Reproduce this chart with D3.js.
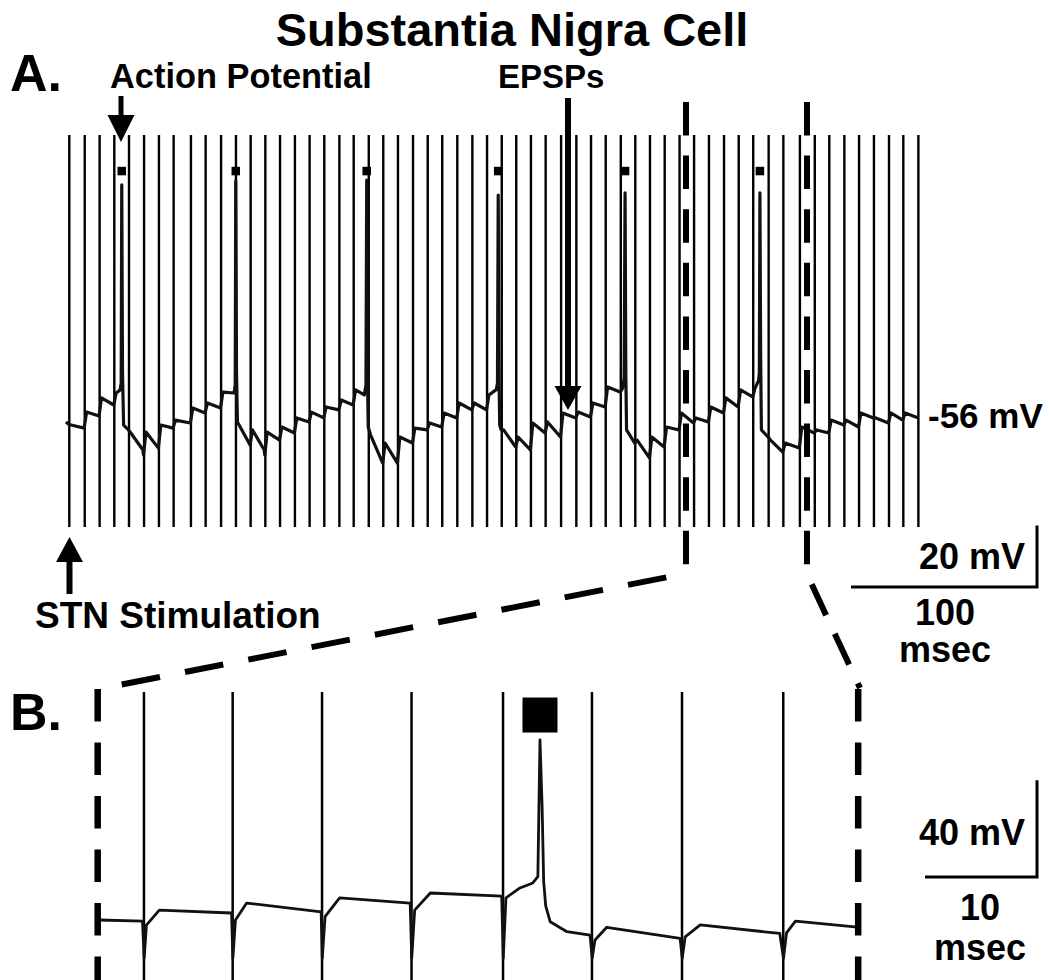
<!DOCTYPE html>
<html><head><meta charset="utf-8">
<script src="https://cdn.jsdelivr.net/npm/d3@7"></script>
<style>
body{margin:0;background:#fff}
svg{display:block}
text{font-family:"Liberation Sans",Arial,Helvetica,sans-serif;font-weight:bold;fill:#000}
</style>
</head><body>
<svg id="chart" width="1050" height="980"></svg>
<script>
// ---------------- DATA ----------------
// Panel A: STN stimulation times (ms)
const stimTimesA = [0, 8.3, 16.3, 24.2, 32.1, 40.2, 48.2, 56.1, 65.4, 73.3, 81.6, 89.6, 97.5, 105.4, 113.3,
  121.3, 129.2, 137.1, 145.2, 152.9, 161.0, 168.8, 176.7, 184.8, 192.7, 200.5, 208.6, 216.7, 224.6, 232.5,
  240.3, 248.2, 256.1, 264.4, 272.6, 280.5, 288.4, 296.5, 304.3, 312.2, 320.1, 328.1, 335.9, 343.9, 352.0,
  359.9, 367.7, 376.0, 383.9, 392.8, 400.8, 408.6, 416.7, 424.6, 432.6, 440.7, 448.4, 456.5];
// stimulus artifact extent (mV)
const stimArtifactA = [-92.4, 34.9];
// action potential times (ms), each marked with a square
const spikeTimesA = [28.2, 89.5, 159.9, 230.6, 298.8, 371.3];
const spikeMarkerLevelA = 23.2; // mV
// membrane potential trace [ms, mV]
const traceA = [
  [-1.8, -58.25], [-0.3, -59.0],
  [1.0, -59.25], [8.0, -60.25],
  [9.3, -55.05], [16.0, -56.35],
  [17.3, -50.45], [23.9, -52.75],
  [25.2, -48.85], [27.3, -47.85], [27.9, -45.6], [28.2, 18.7], [28.6, -42.15], [29.2, -59.25], [31.8, -60.85],
  [33.1, -61.85], [39.6, -67.35], [39.9, -69.0],
  [41.2, -61.55], [47.9, -66.75],
  [49.2, -59.25], [55.8, -60.25],
  [57.1, -57.65], [65.1, -58.6],
  [66.4, -53.75], [73.0, -55.35],
  [74.3, -52.1], [81.3, -53.75],
  [82.6, -48.55], [88.6, -48.85], [89.2, -46.25], [89.5, 20.0], [89.9, -42.15],
  [90.4, -58.25], [97.2, -65.75],
  [98.5, -60.85], [104.8, -67.35], [105.1, -69.0],
  [106.4, -61.55], [113.0, -64.15],
  [114.3, -59.9], [121.0, -61.85],
  [122.3, -56.95], [128.9, -58.25],
  [130.2, -55.05], [136.8, -56.95],
  [138.1, -53.4], [144.9, -54.35],
  [146.2, -51.15], [152.6, -52.75],
  [153.9, -47.85], [158.6, -49.5], [159.5, -46.25], [159.9, 20.3], [160.3, -42.15], [160.7, -59.9],
  [162.0, -62.5], [168.5, -71.6],
  [169.8, -65.1], [176.4, -71.6],
  [177.7, -63.15], [184.5, -65.1],
  [185.8, -60.25], [192.4, -60.85],
  [193.7, -58.6], [200.2, -59.9],
  [201.5, -55.35], [208.3, -56.95],
  [209.6, -52.1], [216.4, -54.35],
  [217.7, -52.1], [224.3, -54.35],
  [225.6, -49.5], [229.6, -47.75], [230.2, -45.6], [230.6, 15.4], [231.0, -42.15], [231.4, -59.25], [232.2, -60.85],
  [233.5, -60.85], [240.0, -66.4],
  [241.3, -63.15], [247.9, -67.35],
  [249.2, -58.6], [255.8, -61.85],
  [257.1, -58.25], [264.1, -63.15],
  [265.4, -55.35], [272.3, -56.95],
  [273.6, -55.05], [280.2, -56.65],
  [281.5, -52.1], [288.1, -53.4],
  [289.4, -46.9], [296.2, -48.55],
  [297.5, -47.25], [298.3, -43.95], [298.8, 16.1], [299.2, -42.15], [299.6, -60.85], [304.0, -65.1],
  [305.3, -64.15], [311.9, -69.95],
  [313.2, -63.15], [319.8, -66.4],
  [321.1, -59.9], [327.8, -60.85],
  [329.1, -55.35], [335.6, -58.6],
  [336.9, -56.95], [343.6, -58.25],
  [344.9, -53.4], [351.7, -55.35],
  [353.0, -50.45], [359.6, -53.4],
  [360.9, -47.85], [367.4, -50.15],
  [368.7, -47.25], [370.6, -44.75], [371.0, -42.4], [371.3, 16.1], [371.7, -37.8], [372.1, -60.85], [375.7, -63.15],
  [377.0, -64.15], [383.6, -68.05],
  [384.9, -65.1], [392.5, -66.75],
  [393.8, -59.9], [400.5, -61.85],
  [401.8, -60.85], [408.3, -61.85],
  [409.6, -57.65], [416.4, -59.25],
  [417.7, -57.65], [424.3, -59.9],
  [425.6, -55.35], [432.3, -56.95],
  [433.6, -56.95], [440.4, -58.6],
  [441.7, -55.35], [448.1, -57.65],
  [449.4, -55.35], [456.5, -56.95]
];
const restingLabelA = "-56 mV";
const restingLevelA = -56;

// Panel B: expanded view (ms from the left dashed border)
const stimTimesB = [4.13, 12.05, 20.03, 28.02, 36.19, 44.13, 52.17, 61.21];
const stimArtifactB = [-93, 36.2];
const spikeTimeB = 39.49;
const spikeMarkerLevelB = 26.7;
const traceB = [
  [0.2, -58], [4.0, -58.45], [4.15, -73.8], [4.35, -60.1], [5.5, -53.9], [11.95, -55.1],
  [12.07, -73.8], [12.3, -58], [13.3, -51.0], [19.95, -54.6],
  [20.05, -73.8], [20.3, -56.6], [21.6, -48.85], [27.9, -51.0],
  [28.04, -73.8], [28.3, -53.9], [29.7, -46.85], [36.07, -48.1],
  [36.21, -73.8], [36.45, -48.85], [37.7, -44.75], [38.85, -42.7], [39.3, -40.1], [39.49, 16.4],
  [39.68, -11.2], [39.82, -42.2], [40.0, -52.2], [40.4, -58.7], [41.9, -62.85], [43.96, -64.25],
  [44.15, -73.8], [44.4, -66.25], [45.45, -61.0], [52.0, -65.55],
  [52.19, -73.8], [52.45, -65.0], [53.8, -60.05], [60.9, -63.55],
  [61.23, -73.8], [61.5, -63.3], [62.3, -58.45], [67.6, -60.8], [67.9, -60.8]
];
const domainEndB = 67.9;

// Scale bars
const scaleA = {ms: 100, mV: 20};
const scaleB = {ms: 10, mV: 40};

// Texts
const titleText = "Substantia Nigra Cell";
const panelLabels = ["A.", "B."];
const annotations = {ap: "Action Potential", epsp: "EPSPs", stn: "STN Stimulation"};

// --------------- LAYOUT ----------------
const svg = d3.select("#chart");

const xA = d3.scaleLinear().domain([0, 100]).range([69.3, 255.3]);
const yA = d3.scaleLinear().domain([-56, -36]).range([415, 353.4]);
const xB = d3.scaleLinear().domain([0, 10]).range([97.7, 209.7]);
const yB = d3.scaleLinear().domain([-58, -18]).range([920, 823.2]);

const gA = svg.append("g");
const gB = svg.append("g");

// Panel A stimulus artifacts
gA.selectAll("line.stim").data(stimTimesA).join("line")
  .attr("x1", d => xA(d)).attr("x2", d => xA(d))
  .attr("y1", yA(stimArtifactA[1])).attr("y2", yA(stimArtifactA[0]))
  .attr("stroke", "#000").attr("stroke-width", 2.4);

// white strips behind the dashed zoom lines
const zoomX = [686, 807];
gA.selectAll("rect.strip").data(zoomX).join("rect")
  .attr("x", d => d - 5).attr("width", 10)
  .attr("y", 100).attr("height", 430).attr("fill", "#fff");

// trace A
const lineA = d3.line().x(d => xA(d[0])).y(d => yA(d[1]));
gA.append("path").datum(traceA).attr("d", lineA)
  .attr("fill", "none").attr("stroke", "#111").attr("stroke-width", 3.2)
  .attr("stroke-linejoin", "round");

// markers A
const msA = 8.5;
gA.selectAll("rect.mk").data(spikeTimesA).join("rect")
  .attr("x", d => xA(d) - msA / 2).attr("y", yA(spikeMarkerLevelA) - msA / 2)
  .attr("width", msA).attr("height", msA).attr("fill", "#000");

// dashed vertical lines in A
gA.selectAll("line.zd").data(zoomX).join("line")
  .attr("x1", d => d).attr("x2", d => d)
  .attr("y1", 102).attr("y2", 572)
  .attr("stroke", "#000").attr("stroke-width", 6).attr("stroke-dasharray", "33.5,20.1");

// connector dashed lines
svg.append("line").attr("x1", 121.7).attr("y1", 684.5).attr("x2", 686).attr("y2", 573.5)
  .attr("stroke", "#000").attr("stroke-width", 6).attr("stroke-dasharray", "39,25.5");
svg.append("line").attr("x1", 806).attr("y1", 572).attr("x2", 860).attr("y2", 688)
  .attr("stroke", "#000").attr("stroke-width", 6).attr("stroke-dasharray", "34,20.5")
  .attr("stroke-dashoffset", 40.9);

// Panel B
gB.selectAll("line.stim").data(stimTimesB).join("line")
  .attr("x1", d => xB(d)).attr("x2", d => xB(d))
  .attr("y1", yB(stimArtifactB[1])).attr("y2", yB(stimArtifactB[0]))
  .attr("stroke", "#000").attr("stroke-width", 2.5);
const lineB = d3.line().x(d => xB(d[0])).y(d => yB(d[1]));
gB.append("path").datum(traceB).attr("d", lineB)
  .attr("fill", "none").attr("stroke", "#111").attr("stroke-width", 2.8)
  .attr("stroke-linejoin", "round");
const msB = 35;
gB.append("rect").attr("x", xB(spikeTimeB) - msB / 2).attr("y", yB(spikeMarkerLevelB) - msB / 2)
  .attr("width", msB).attr("height", msB).attr("fill", "#000");
// B borders
gB.selectAll("line.bd").data([0, domainEndB]).join("line")
  .attr("x1", d => xB(d)).attr("x2", d => xB(d))
  .attr("y1", 689).attr("y2", 985)
  .attr("stroke", "#000").attr("stroke-width", 6.5).attr("stroke-dasharray", "32.5,21");

// Scale bars
function scaleBar(x1, y, wpx, hpx) {
  svg.append("path").attr("d", `M${x1 - wpx},${y} H${x1} V${y - hpx}`)
    .attr("fill", "none").attr("stroke", "#000").attr("stroke-width", 3);
}
scaleBar(1037, 587, xA(scaleA.ms) - xA(0), yA(-56) - yA(-56 + scaleA.mV));
scaleBar(1037, 877, xB(scaleB.ms) - xB(0), yB(-58) - yB(-58 + scaleB.mV));

// Arrows
function arrow(x, yTail, yTip, shaftW, headW, headL) {
  const dir = yTip > yTail ? 1 : -1;
  const yBase = yTip - dir * headL;
  svg.append("rect").attr("x", x - shaftW / 2).attr("width", shaftW)
    .attr("y", Math.min(yTail, yBase)).attr("height", Math.abs(yBase - yTail)).attr("fill", "#000");
  svg.append("path").attr("d", `M${x - headW / 2},${yBase} L${x + headW / 2},${yBase} L${x},${yTip} Z`).attr("fill", "#000");
}
arrow(121, 96, 142, 5, 27, 27);
arrow(568, 98, 410, 6, 27, 24);
arrow(69.5, 594, 537, 6, 27, 25);

// Texts
svg.append("text").attr("x", 512).attr("y", 46).attr("text-anchor", "middle").attr("font-size", 47).text(titleText);
svg.append("text").attr("x", 10).attr("y", 91).attr("font-size", 52).text(panelLabels[0]);
svg.append("text").attr("x", 10).attr("y", 730).attr("font-size", 52).text(panelLabels[1]);
svg.append("text").attr("x", 110).attr("y", 88).attr("font-size", 34.4).text(annotations.ap);
svg.append("text").attr("x", 498).attr("y", 88).attr("font-size", 33).text(annotations.epsp);
svg.append("text").attr("x", 35).attr("y", 628).attr("font-size", 37).text(annotations.stn);
svg.append("text").attr("x", 928).attr("y", yA(restingLevelA) + 13).attr("font-size", 35).text(restingLabelA);
svg.append("text").attr("x", 1025).attr("y", 569).attr("text-anchor", "end").attr("font-size", 36).text(`${scaleA.mV} mV`);
svg.append("text").attr("x", 945).attr("y", 625).attr("text-anchor", "middle").attr("font-size", 36).text(`${scaleA.ms}`);
svg.append("text").attr("x", 945).attr("y", 662).attr("text-anchor", "middle").attr("font-size", 36).text("msec");
svg.append("text").attr("x", 1025).attr("y", 845).attr("text-anchor", "end").attr("font-size", 36).text(`${scaleB.mV} mV`);
svg.append("text").attr("x", 980).attr("y", 920).attr("text-anchor", "middle").attr("font-size", 36).text(`${scaleB.ms}`);
svg.append("text").attr("x", 980).attr("y", 960).attr("text-anchor", "middle").attr("font-size", 36).text("msec");
</script>
</body></html>
